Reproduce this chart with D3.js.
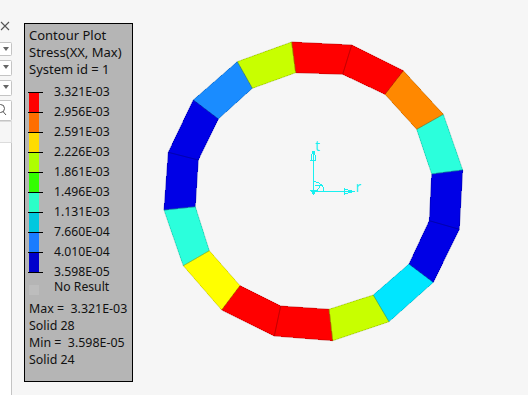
<!DOCTYPE html>
<html>
<head>
<meta charset="utf-8">
<script src="https://cdn.jsdelivr.net/npm/d3@7"></script>
<style>
html, body { margin: 0; padding: 0; background: #f6f6f6; }
svg { display: block; }
text { font-family: "Noto Sans", sans-serif; font-size: 12.2px; fill: #111; }
</style>
</head>
<body>
<script>
// Contour bands, top of the scale first
var bandTicks = ["3.321E-03", "2.956E-03", "2.591E-03", "2.226E-03", "1.861E-03", "1.496E-03", "1.131E-03", "7.660E-04", "4.010E-04", "3.598E-05"];
var tickValues = [3.321e-3, 2.956e-3, 2.591e-3, 2.226e-3, 1.861e-3, 1.496e-3, 1.131e-3, 7.66e-4, 4.01e-4, 3.598e-5];
var legendColors = ["#ff0000", "#ff6e00", "#ffdc00", "#aeff00", "#33ff00", "#2bffc8", "#00c8de", "#1a7cff", "#0000cc"];
var bandColors = ["#ff0000", "#ff8800", "#ffff00", "#c8ff00", "#44ff00", "#2bffdc", "#00e6ff", "#1a8cff", "#0000e6"];

// Element stress, clockwise from the top
var elementStress = [3.2e-3, 2.0e-3, 5.5e-4, 1.5e-4, 1.5e-4, 1.3e-3, 2.45e-3, 3.1e-3, 3.2e-3, 2.0e-3, 9.5e-4, 1.5e-4, 1.5e-4, 1.3e-3, 2.8e-3, 3.2e-3];

// Mesh nodes in model units, origin at the csys
var outerX = [-21.3, -75.7, -119.7, -144.7, -149, -129.7, -91.3, -38.7, 19.7, 76, 120.3, 146.3, 149.7, 130.3, 90.3, 38.7];
var outerY = [149, 129.3, 91, 38.7, -19, -74.7, -119, -145, -149.7, -130.7, -91.3, -38.3, 21, 76.7, 120.3, 146];
var innerX = [-17.3, -60.7, -94.7, -114.7, -117.7, -103.7, -73, -32.3, 16, 60.3, 96, 116.3, 118.7, 103.7, 72, 29.7];
var innerY = [118.3, 102.7, 72, 31, -15.7, -59.7, -94.7, -115, -118.3, -104, -73, -29.7, 17, 61.7, 96.7, 116.7];

var headerLines = ["Contour Plot", "Stress(XX, Max)", "System id = 1"];
var footerLines = ["Max =  3.321E-03", "Solid 28", "Min =  3.598E-05", "Solid 24"];

function init() {
    var w = 528;
    var h = 395;

    var svg = d3.select("body")
        .append("svg")
        .attr("width", w)
        .attr("height", h);

    // bits of the application window left of the plot
    var ui = svg.append("g");
    ui.append("rect").attr("x", -1).attr("y", 121.5).attr("width", 12.5).attr("height", 280)
        .attr("fill", "#fff").attr("stroke", "#c4c4c4");
    ui.append("rect").attr("x", -1).attr("y", 121.5).attr("width", 12.5).attr("height", 21)
        .attr("fill", "#f6f6f6").attr("stroke", "#dcdcdc");
    ui.append("path").attr("d", "M1,22l8,8M9,22l-8,8").attr("stroke", "#555").attr("stroke-width", 1.1);
    [[42.5, 13], [60.5, 15], [80.5, 15]].forEach(function(b) {
        ui.append("rect").attr("x", -1).attr("y", b[0]).attr("width", 12.5).attr("height", b[1])
            .attr("fill", "#fff").attr("stroke", "#c4c4c4").attr("rx", 1);
        ui.append("path").attr("d", "M3," + (b[0] + 4.5) + "h6l-3,4z").attr("fill", "#666");
    });
    ui.append("rect").attr("x", -1).attr("y", 100.5).attr("width", 12.5).attr("height", 20)
        .attr("fill", "#fff").attr("stroke", "#c4c4c4").attr("rx", 1);
    ui.append("circle").attr("cx", 0.5).attr("cy", 108.5).attr("r", 4).attr("fill", "none").attr("stroke", "#555");
    ui.append("line").attr("x1", 3).attr("y1", 111.5).attr("x2", 6).attr("y2", 115).attr("stroke", "#555");

    // Legend panel
    var panel = svg.append("g");
    panel.append("rect").attr("x", 24.5).attr("y", 23.5).attr("width", 108).attr("height", 358)
        .attr("fill", "#b5b5b5").attr("stroke", "#000");

    panel.selectAll("text.head")
        .data(headerLines)
        .enter()
        .append("text")
        .attr("class", "head")
        .attr("x", 29)
        .attr("y", function(d, i) { return 40 + i * 17; })
        .style("font-size", "13px")
        .text(function(d) { return d; });

    // one step of the contour scale per band, ticks are 20px apart
    var legendY = d3.scalePoint()
        .domain(tickValues)
        .range([92, 272]);

    panel.selectAll("rect.band")
        .data(legendColors)
        .enter()
        .append("rect")
        .attr("class", "band")
        .attr("x", 29)
        .attr("width", 10)
        .attr("y", function(d, i) { return legendY(tickValues[i]); })
        .attr("height", function(d, i) { return legendY(tickValues[i + 1]) - legendY(tickValues[i]); })
        .attr("fill", function(d) { return d; });

    panel.selectAll("line.tick")
        .data(tickValues)
        .enter()
        .append("line")
        .attr("class", "tick")
        .attr("x1", 28)
        .attr("x2", 43)
        .attr("y1", function(d) { return legendY(d) + 0.5; })
        .attr("y2", function(d) { return legendY(d) + 0.5; })
        .attr("stroke", "#000");

    panel.selectAll("text.tick")
        .data(bandTicks)
        .enter()
        .append("text")
        .attr("class", "tick")
        .attr("x", 54)
        .attr("y", function(d, i) { return legendY(tickValues[i]) + 4; })
        .text(function(d) { return d; });

    panel.append("rect").attr("x", 29).attr("y", 285).attr("width", 10).attr("height", 10).attr("fill", "#bdbdbd");
    panel.append("text").attr("x", 54).attr("y", 291).text("No Result");

    panel.selectAll("text.foot")
        .data(footerLines)
        .enter()
        .append("text")
        .attr("class", "foot")
        .attr("x", 29)
        .attr("y", function(d, i) { return 313 + i * 17; })
        .style("white-space", "pre")
        .style("font-size", "12.4px")
        .text(function(d) { return d; });

    // Mesh
    var x = d3.scaleLinear().domain([-150, 150]).range([163, 463]);
    var y = d3.scaleLinear().domain([-150, 150]).range([341, 41]);

    // bands are equal width in stress, lowest first
    var bandScale = d3.scaleQuantize()
        .domain([tickValues[tickValues.length - 1], tickValues[0]])
        .range(bandColors.slice().reverse());

    var n = elementStress.length;
    var quad = function(i) {
        var j = (i + n - 1) % n; // previous node, going clockwise
        return "M" + x(outerX[j]) + "," + y(outerY[j]) +
            "L" + x(outerX[i]) + "," + y(outerY[i]) +
            "L" + x(innerX[i]) + "," + y(innerY[i]) +
            "L" + x(innerX[j]) + "," + y(innerY[j]) + "Z";
    };

    // fills are aliased like the viewport, edges go on top in a second pass
    svg.append("g").selectAll("path")
        .data(elementStress)
        .enter()
        .append("path")
        .attr("d", function(d, i) { return quad(i); })
        .attr("fill", function(d) { return bandScale(d); })
        .attr("shape-rendering", "crispEdges");

    svg.append("g").selectAll("path")
        .data(elementStress)
        .enter()
        .append("path")
        .attr("d", function(d, i) { return quad(i); })
        .attr("fill", "none")
        .attr("stroke", function(d) { return d3.color(bandScale(d)).darker(1); })
        .attr("stroke-width", 0.5);

    // Coordinate system marker
    var cyan = "#19f0f0";
    var csys = svg.append("g").attr("stroke", cyan).attr("fill", "none").attr("shape-rendering", "crispEdges");
    var ox = x(0) + 0.5;
    var oy = y(0) + 0.5;
    csys.append("line").attr("x1", ox).attr("y1", oy).attr("x2", ox).attr("y2", oy - 41);
    csys.append("line").attr("x1", ox).attr("y1", oy).attr("x2", ox + 40).attr("y2", oy);
    csys.append("path").attr("d", "M" + (ox - 2.5) + "," + (oy - 31) + "h5l-1.5,-9h-2z");
    csys.append("path").attr("d", "M" + (ox + 31) + "," + (oy - 2.5) + "v5l9,-2.5z");
    csys.append("path").attr("d", "M" + ox + "," + (oy - 10) + "a10.5,10 0 0 1 10.5,10");
    csys.append("path").attr("d", "M" + (ox + 1) + "," + (oy - 6) + "h6l-4,6");
    csys.append("path").attr("d", "M" + (ox - 2.5) + "," + (oy - 1) + "h5l-2.5,4z").attr("fill", cyan);
    svg.append("text").attr("x", ox + 1.5).attr("y", oy - 41).style("fill", cyan).style("font-size", "13.5px").text("t");
    svg.append("text").attr("x", ox + 42).attr("y", oy).style("fill", cyan).style("font-size", "13.5px").text("r");
}

window.onload = init;
</script>
</body>
</html>
